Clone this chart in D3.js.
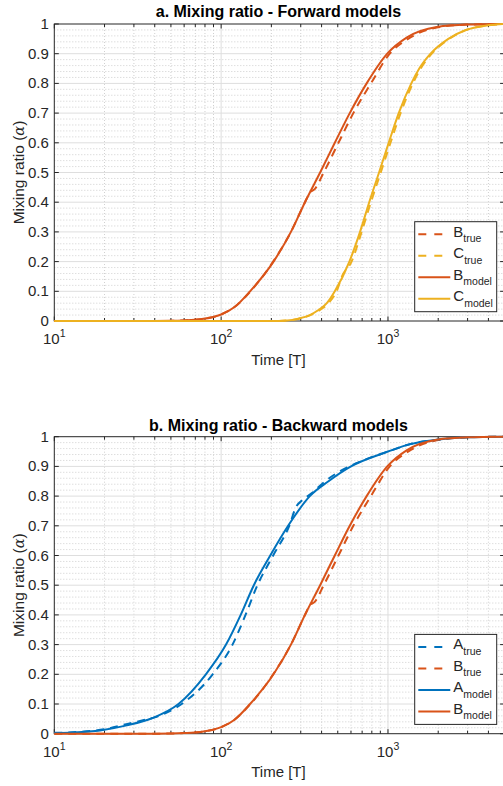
<!DOCTYPE html>
<html>
<head>
<meta charset="utf-8">
<script src="https://cdn.jsdelivr.net/npm/d3@7"></script>
<style>
  html, body { margin: 0; padding: 0; background: #ffffff; }
  svg { display: block; }
</style>
</head>
<body>
<svg id="chart" width="503" height="786"></svg>
<script>
// ---- data -------------------------------------------------------------
// Species B (shared by both panels)
const bTime      = [10, 40, 50, 60, 75, 100, 121, 149, 206, 262, 318, 392, 480, 590, 745, 990, 1300, 1960, 3000, 5000];
const bModel     = [0, 0, 0.0005, 0.002, 0.006, 0.022, 0.048, 0.1, 0.2, 0.3, 0.4, 0.5, 0.6, 0.7, 0.8, 0.9, 0.955, 0.99, 0.998, 1];
const bTrueTime  = [10, 40, 50, 60, 75, 100, 120, 150, 205, 262, 318, 340, 365, 412, 505, 620, 790, 1025, 1320, 1960, 3000, 5000];
const bTrue      = [0, 0, 0.0005, 0.002, 0.006, 0.022, 0.047, 0.1, 0.2, 0.3, 0.4, 0.432, 0.445, 0.5, 0.6, 0.7, 0.8, 0.9, 0.95, 0.988, 0.998, 1];

// Species C (forward models)
const cTime      = [10, 200, 250, 290, 340, 383, 430, 480, 587, 680, 772, 884, 1010, 1160, 1380, 1540, 1800, 2300, 2930, 3900, 5000];
const cModel     = [0, 0, 0.002, 0.008, 0.02, 0.037, 0.06, 0.1, 0.2, 0.3, 0.4, 0.5, 0.6, 0.7, 0.8, 0.85, 0.9, 0.95, 0.98, 0.995, 1];
const cTrueTime  = [10, 200, 250, 290, 340, 385, 440, 500, 525, 605, 695, 790, 905, 1035, 1190, 1410, 1570, 1830, 2330, 2950, 3900, 5000];
const cTrue      = [0, 0, 0.002, 0.007, 0.019, 0.035, 0.06, 0.11, 0.145, 0.2, 0.3, 0.4, 0.5, 0.6, 0.7, 0.8, 0.85, 0.9, 0.95, 0.98, 0.995, 1];

// Species A (backward models)
const aTime      = [10, 13, 18.8, 27.2, 38.5, 55.5, 81, 107, 131, 157, 197, 252, 340, 440, 600, 1000, 1355, 1960, 3000, 5000];
const aModel     = [0.002, 0.004, 0.011, 0.028, 0.052, 0.1, 0.2, 0.3, 0.4, 0.5, 0.6, 0.7, 0.8, 0.85, 0.9, 0.95, 0.975, 0.99, 0.998, 1];
const aTrueTime  = [10, 14, 20, 27, 34, 40, 58, 89, 117, 140, 165, 205, 256, 282, 305, 350, 420, 520, 640, 1000, 1400, 2000, 3000, 5000];
const aTrue      = [0.003, 0.006, 0.015, 0.032, 0.045, 0.055, 0.1, 0.2, 0.3, 0.4, 0.5, 0.6, 0.7, 0.765, 0.785, 0.81, 0.85, 0.885, 0.91, 0.95, 0.977, 0.99, 0.998, 1];

// Axis ticks
const xDomain       = [10, 5000];
const xTickValues   = [10, 100, 1000];
const xTickExponent = ["1", "2", "3"];
const yTickValues   = [0, 0.1, 0.2, 0.3, 0.4, 0.5, 0.6, 0.7, 0.8, 0.9, 1];
const yTickLabels   = ["0", "0.1", "0.2", "0.3", "0.4", "0.5", "0.6", "0.7", "0.8", "0.9", "1"];

const panelTitles = ["a. Mixing ratio - Forward models", "b. Mixing ratio - Backward models"];
const xLabel = "Time [T]";

// ---- styling ----------------------------------------------------------
const FONT = '"Liberation Sans", Arial, Helvetica, sans-serif';
const COL = { A: "#0072BD", B: "#D95319", C: "#EDB120" };
const AXIS_COL = "#262626";
const GRID_COL = "#dedede";
const MINOR_COL = "#c4c4c4";

const svg = d3.select("#chart");
const X_LEFT = 54.3, X_RIGHT = 504.6;
const x = d3.scaleLog().domain(xDomain).range([X_LEFT, X_RIGHT]);

const zip = (t, v) => t.map((d, i) => ({ t: d, v: v[i] }));

const panels = [
  {
    top: 24, bottom: 321, titleY: 17, title: panelTitles[0],
    series: [
      { data: zip(bTrueTime, bTrue), color: COL.B, dashed: true,  name: "B", sub: "true" },
      { data: zip(cTrueTime, cTrue), color: COL.C, dashed: true,  name: "C", sub: "true" },
      { data: zip(bTime, bModel),    color: COL.B, dashed: false, name: "B", sub: "model" },
      { data: zip(cTime, cModel),    color: COL.C, dashed: false, name: "C", sub: "model" }
    ]
  },
  {
    top: 436.7, bottom: 733.7, titleY: 431, title: panelTitles[1],
    series: [
      { data: zip(aTrueTime, aTrue), color: COL.A, dashed: true,  name: "A", sub: "true" },
      { data: zip(bTrueTime, bTrue), color: COL.B, dashed: true,  name: "B", sub: "true" },
      { data: zip(aTime, aModel),    color: COL.A, dashed: false, name: "A", sub: "model" },
      { data: zip(bTime, bModel),    color: COL.B, dashed: false, name: "B", sub: "model" }
    ]
  }
];

// minor positions on the log axis: 2..9 of each decade
const xMinor = [];
[10, 100, 1000].forEach(dec => {
  for (let k = 2; k <= 9; k++) {
    const v = k * dec;
    if (v < xDomain[1]) xMinor.push(v);
  }
});
const yMinor = d3.range(0, 51).filter(i => i % 5 !== 0).map(i => i / 50);

function drawPanel(p) {
  const y = d3.scaleLinear().domain([0, 1]).range([p.bottom, p.top]);
  const g = svg.append("g");

  // minor grid (dotted)
  const minor = g.append("g").attr("stroke", MINOR_COL).attr("stroke-width", 0.8)
    .attr("stroke-dasharray", "1,2").attr("fill", "none");
  minor.selectAll("line.mx").data(xMinor).join("line")
    .attr("x1", d => x(d)).attr("x2", d => x(d))
    .attr("y1", p.top).attr("y2", p.bottom);
  minor.selectAll("line.my").data(yMinor).join("line")
    .attr("x1", X_LEFT).attr("x2", X_RIGHT)
    .attr("y1", d => y(d)).attr("y2", d => y(d));

  // major grid
  const major = g.append("g").attr("stroke", GRID_COL).attr("stroke-width", 1);
  major.selectAll("line.gx").data(xTickValues.slice(1)).join("line")
    .attr("x1", d => x(d)).attr("x2", d => x(d))
    .attr("y1", p.top).attr("y2", p.bottom);
  major.selectAll("line.gy").data(yTickValues.slice(1, -1)).join("line")
    .attr("x1", X_LEFT).attr("x2", X_RIGHT)
    .attr("y1", d => y(d)).attr("y2", d => y(d));

  // axes box and ticks
  const ax = g.append("g").attr("stroke", AXIS_COL).attr("stroke-width", 1).attr("fill", "none");
  ax.append("rect").attr("x", X_LEFT).attr("y", p.top)
    .attr("width", X_RIGHT - X_LEFT).attr("height", p.bottom - p.top);
  const xt = xTickValues.map(v => ({ v, len: 4.5 })).concat(xMinor.map(v => ({ v, len: 3 })));
  ax.selectAll("line.xb").data(xt).join("line")
    .attr("x1", d => x(d.v)).attr("x2", d => x(d.v))
    .attr("y1", p.bottom).attr("y2", d => p.bottom - d.len);
  ax.selectAll("line.xt").data(xt).join("line")
    .attr("x1", d => x(d.v)).attr("x2", d => x(d.v))
    .attr("y1", p.top).attr("y2", d => p.top + d.len);
  ax.selectAll("line.yl").data(yTickValues).join("line")
    .attr("x1", X_LEFT).attr("x2", X_LEFT + 4.5)
    .attr("y1", d => y(d)).attr("y2", d => y(d));
  ax.selectAll("line.yr").data(yTickValues).join("line")
    .attr("x1", X_RIGHT).attr("x2", X_RIGHT - 4.5)
    .attr("y1", d => y(d)).attr("y2", d => y(d));

  // y tick labels
  g.append("g").selectAll("text").data(yTickValues).join("text")
    .attr("x", X_LEFT - 5.5).attr("y", d => y(d) + 5)
    .attr("text-anchor", "end")
    .attr("font-family", FONT).attr("font-size", 15).attr("fill", AXIS_COL)
    .text((d, i) => yTickLabels[i]);

  // x tick labels: 10 with superscript exponent
  const xl = g.append("g").selectAll("text").data(xTickValues).join("text")
    .attr("x", d => x(d)).attr("y", p.bottom + 23)
    .attr("text-anchor", "middle")
    .attr("font-family", FONT).attr("font-size", 15).attr("fill", AXIS_COL);
  xl.append("tspan").text("10");
  xl.append("tspan").attr("dy", -7).attr("font-size", 10.5).text((d, i) => xTickExponent[i]);

  // axis labels
  g.append("text").attr("x", (X_LEFT + X_RIGHT) / 2 - 1).attr("y", p.bottom + 43.5)
    .attr("text-anchor", "middle").attr("font-family", FONT).attr("font-size", 15)
    .attr("fill", AXIS_COL).text(xLabel);

  const yl = g.append("text")
    .attr("transform", `translate(23.5,${(p.top + p.bottom) / 2}) rotate(-90)`)
    .attr("text-anchor", "middle").attr("font-family", FONT).attr("font-size", 15.5)
    .attr("fill", AXIS_COL);
  yl.append("tspan").text("Mixing ratio (");
  yl.append("tspan").attr("font-family", '"DejaVu Serif", "Liberation Serif", serif')
    .attr("font-style", "italic").attr("font-size", 14.5).text("α");
  yl.append("tspan").text(")");

  // title
  g.append("text").attr("x", (X_LEFT + X_RIGHT) / 2 - 1).attr("y", p.titleY)
    .attr("text-anchor", "middle").attr("font-family", FONT).attr("font-size", 16)
    .attr("font-weight", "bold").attr("fill", "#000").text(p.title);

  // curves
  const line = d3.line().x(d => x(d.t)).y(d => y(d.v)).curve(d3.curveMonotoneX);
  g.append("g").selectAll("path").data(p.series).join("path")
    .attr("d", d => line(d.data))
    .attr("fill", "none")
    .attr("stroke", d => d.color)
    .attr("stroke-width", 2)
    .attr("stroke-dasharray", d => d.dashed ? "8,6" : null);

  // legend
  const lx0 = 414.7, lx1 = 496.7;
  const ly0 = p.bottom - 99.3, ly1 = p.bottom - 9.3;
  const leg = g.append("g");
  leg.append("rect").attr("x", lx0).attr("y", ly0)
    .attr("width", lx1 - lx0).attr("height", ly1 - ly0)
    .attr("fill", "#fff").attr("stroke", AXIS_COL).attr("stroke-width", 1);
  const row = leg.selectAll("g.row").data(p.series).join("g")
    .attr("transform", (d, i) => `translate(0,${ly0 + 12.5 + i * 21.5})`);
  row.append("line").attr("x1", 418.3).attr("x2", 450.3).attr("y1", 0).attr("y2", 0)
    .attr("stroke", d => d.color).attr("stroke-width", 2)
    .attr("stroke-dasharray", d => d.dashed ? "8,8" : null);
  const lt = row.append("text").attr("x", 453.3).attr("y", 2.5)
    .attr("font-family", FONT).attr("font-size", 15).attr("fill", AXIS_COL);
  lt.append("tspan").text(d => d.name);
  lt.append("tspan").attr("dy", 5.5).attr("font-size", 10.5).text(d => d.sub);
}

panels.forEach(drawPanel);
</script>
</body>
</html>
